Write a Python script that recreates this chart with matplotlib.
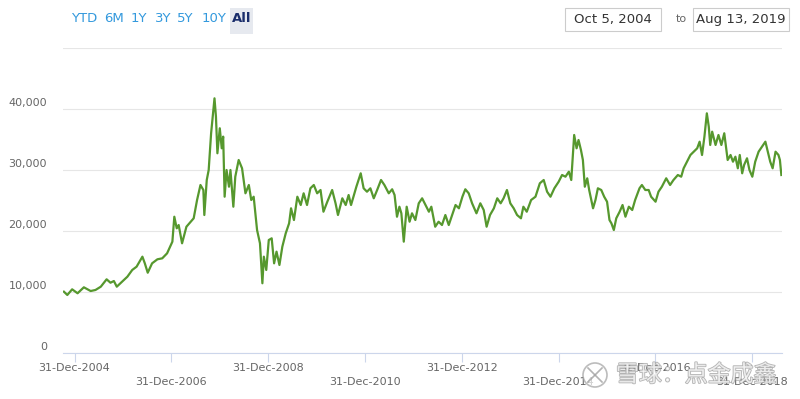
import matplotlib
matplotlib.use("Agg")
import matplotlib.pyplot as plt
import matplotlib.transforms as mtransforms
import matplotlib.patheffects as pe
from matplotlib.patches import Rectangle, Ellipse
from matplotlib.lines import Line2D
import pandas as pd

# ---------------- data ----------------
years = [
    2004.78, 2004.85, 2004.95, 2005.06, 2005.19, 2005.33, 2005.43, 2005.54, 2005.66, 2005.74,
    2005.81, 2005.87, 2005.98, 2006.09, 2006.19, 2006.28, 2006.40, 2006.45, 2006.51, 2006.60,
    2006.71, 2006.81, 2006.91, 2007.02, 2007.06, 2007.11, 2007.15, 2007.22, 2007.31, 2007.40,
    2007.46, 2007.53, 2007.60, 2007.66, 2007.68, 2007.73, 2007.77, 2007.82, 2007.86, 2007.89,
    2007.92, 2007.95, 2008.00, 2008.04, 2008.07, 2008.10, 2008.14, 2008.19, 2008.22, 2008.28,
    2008.32, 2008.39, 2008.46, 2008.53, 2008.60, 2008.65, 2008.70, 2008.77, 2008.83, 2008.88,
    2008.91, 2008.96, 2009.01, 2009.07, 2009.12, 2009.17, 2009.23, 2009.29, 2009.36, 2009.43,
    2009.47, 2009.53, 2009.60, 2009.67, 2009.73, 2009.80, 2009.87, 2009.94, 2010.01, 2010.08,
    2010.14, 2010.22, 2010.32, 2010.39, 2010.44, 2010.53, 2010.60, 2010.66, 2010.71, 2010.82,
    2010.91, 2010.97, 2011.04, 2011.11, 2011.18, 2011.25, 2011.33, 2011.40, 2011.49, 2011.56,
    2011.61, 2011.66, 2011.71, 2011.75, 2011.80, 2011.86, 2011.92, 2011.97, 2012.04, 2012.11,
    2012.18, 2012.25, 2012.32, 2012.37, 2012.45, 2012.52, 2012.59, 2012.66, 2012.73, 2012.80,
    2012.87, 2012.94, 2013.01, 2013.07, 2013.14, 2013.21, 2013.30, 2013.38, 2013.45, 2013.51,
    2013.58, 2013.66, 2013.73, 2013.80, 2013.86, 2013.93, 2014.00, 2014.07, 2014.14, 2014.22,
    2014.27, 2014.34, 2014.43, 2014.52, 2014.61, 2014.69, 2014.76, 2014.83, 2014.91, 2015.00,
    2015.07, 2015.14, 2015.21, 2015.26, 2015.29, 2015.32, 2015.37, 2015.41, 2015.46, 2015.50,
    2015.54, 2015.59, 2015.63, 2015.71, 2015.76, 2015.81, 2015.88, 2015.94, 2016.00, 2016.05,
    2016.09, 2016.14, 2016.19, 2016.26, 2016.32, 2016.38, 2016.45, 2016.52, 2016.58, 2016.67,
    2016.72, 2016.79, 2016.86, 2016.91, 2017.00, 2017.06, 2017.13, 2017.22, 2017.30, 2017.37,
    2017.46, 2017.53, 2017.58, 2017.65, 2017.72, 2017.79, 2017.86, 2017.91, 2017.96, 2018.01,
    2018.06, 2018.10, 2018.13, 2018.17, 2018.24, 2018.30, 2018.36, 2018.42, 2018.46, 2018.49,
    2018.55, 2018.60, 2018.65, 2018.70, 2018.74, 2018.79, 2018.83, 2018.89, 2018.94, 2019.00,
    2019.06, 2019.13, 2019.20, 2019.27, 2019.32, 2019.37, 2019.42, 2019.48, 2019.54, 2019.57,
    2019.60,
]
values = [
    10100, 9560, 10490, 9840, 10820, 10210, 10380, 10920, 12130, 11570,
    11850, 10920, 11740, 12560, 13660, 14200, 15840, 14750, 13210, 14750,
    15410, 15570, 16390, 18300, 22390, 20490, 21030, 18030, 20750, 21570,
    22130, 25130, 27590, 26770, 22670, 28410, 30050, 36070, 39340, 41800,
    38790, 32790, 36890, 33610, 35520, 25670, 30050, 27310, 30050, 24030,
    28950, 31690, 30330, 26230, 27590, 25130, 25670, 20210, 18030, 11480,
    15840, 13660, 18570, 18850, 14750, 16660, 14480, 17480, 19670, 21310,
    23770, 21850, 25670, 24310, 26230, 24310, 27050, 27590, 26230, 26770,
    23210, 24850, 26770, 24590, 22670, 25410, 24310, 25950, 24310, 27310,
    29510, 27050, 26490, 27050, 25410, 26770, 28410, 27590, 26230, 26890,
    25950, 22390, 24030, 22950, 18300, 24030, 21570, 22950, 21850, 24590,
    25410, 24310, 23210, 24030, 20750, 21570, 21030, 22670, 21030, 22670,
    24310, 23770, 25670, 26890, 26230, 24590, 22950, 24590, 23490, 20750,
    22670, 23770, 25410, 24590, 25410, 26770, 24590, 23770, 22670, 22130,
    24030, 23210, 25130, 25670, 27870, 28410, 26490, 25670, 27050, 28130,
    29230, 28950, 29770, 28410, 32230, 35790, 33610, 34970, 33330, 31690,
    27310, 28690, 26770, 23770, 25130, 27050, 26770, 25670, 24850, 21850,
    21310, 20210, 22130, 23210, 24310, 22390, 24030, 23490, 25130, 27050,
    27590, 26770, 26770, 25670, 24850, 26490, 27310, 28690, 27590, 28410,
    29230, 28950, 30330, 31410, 32510, 33050, 33610, 34690, 32510, 35510,
    39340, 37150, 34150, 36330, 34150, 35790, 34150, 36070, 33610, 31690,
    32510, 31410, 32230, 30330, 32510, 29510, 30870, 31970, 30050, 28950,
    31410, 33050, 33870, 34690, 33050, 31410, 30330, 33050, 32510, 31690,
    29230,
]
y_ticks = [0, 10000, 20000, 30000, 40000, 50000]
y_tick_labels = ["0", "10,000", "20,000", "30,000", "40,000"]
x_tick_dates = ["2004-12-31", "2006-12-31", "2008-12-31", "2010-12-31",
                "2012-12-31", "2014-12-31", "2016-12-31", "2018-12-31"]
x_tick_labels = ["31-Dec-2004", "31-Dec-2006", "31-Dec-2008", "31-Dec-2010",
                 "31-Dec-2012", "31-Dec-2014", "31-Dec-2016", "31-Dec-2018"]
range_buttons = ["YTD", "6M", "1Y", "3Y", "5Y", "10Y", "All"]
date_from = "Oct 5, 2004"
date_to = "Aug 13, 2019"
x_start, x_end = "2004-10-05", "2019-08-13"
watermark = "雪球：点金成鑫"

# ---------------- figure ----------------
W, H = 800, 399
fig = plt.figure(figsize=(W / 100, H / 100), dpi=100)
fig.patch.set_facecolor("white")


def fx(x):
    return x / W


def fy(y):
    return 1 - y / H


ax_l, ax_r, ax_t, ax_b = 63, 782, 48.3, 353.3
ax = fig.add_axes([fx(ax_l), fy(ax_b), (ax_r - ax_l) / W, (ax_b - ax_t) / H])

dates = [pd.Timestamp(int(y), 1, 1) + pd.Timedelta(days=(y - int(y)) * 365.25) for y in years]
ax.plot(dates, values, color="#56982e", lw=1.6, solid_joinstyle="round", zorder=3)

ax.set_xlim(pd.Timestamp(x_start), pd.Timestamp(x_end))
ax.set_ylim(y_ticks[0], y_ticks[-1])
ax.set_yticks(y_ticks)
ax.yaxis.grid(True, color="#e6e6e6", lw=0.8)
ax.tick_params(axis="y", length=0, labelleft=False)
for s in ["top", "right", "left"]:
    ax.spines[s].set_visible(False)
ax.spines["bottom"].set_color("#ccd6eb")
ax.spines["bottom"].set_linewidth(0.8)
ax.spines["bottom"].set_zorder(4)

tick_dates = [pd.Timestamp(d) for d in x_tick_dates]
ax.set_xticks(tick_dates)
ax.set_xticklabels([])
ax.tick_params(axis="x", length=6.5, color="#ccd6eb", width=0.8)

font = "DejaVu Sans"
lbl_color = "#666666"
blend_y = mtransforms.blended_transform_factory(ax.transAxes, ax.transData)
for v, lab in zip(y_ticks, y_tick_labels):
    tr = mtransforms.offset_copy(blend_y, fig=fig, x=-16, y=6, units="dots")
    ax.text(0, v, lab, transform=tr, ha="right", va="center", fontsize=8,
            color=lbl_color, family=font)

blend_x = mtransforms.blended_transform_factory(ax.transData, ax.transAxes)
for i, (d, lab) in enumerate(zip(tick_dates, x_tick_labels)):
    off = -15 if i % 2 == 0 else -29
    tr = mtransforms.offset_copy(blend_x, fig=fig, x=0, y=off, units="dots")
    ax.text(d, 0, lab, transform=tr, ha="center", va="center", fontsize=8,
            color=lbl_color, family=font, clip_on=False)

# ---------------- range selector ----------------
btn_x = [84, 114, 139, 163, 185, 214, 242]
fig.patches.append(Rectangle((fx(230), fy(34)), 23 / W, 26 / H, transform=fig.transFigure,
                             facecolor="#e6e9ef", edgecolor="none"))
for x, b in zip(btn_x, range_buttons):
    if b == "All":
        fig.text(fx(x), fy(19), b, ha="center", va="center", fontsize=9.5,
                 color="#1a2d6b", family=font, fontweight="bold")
    else:
        fig.text(fx(x), fy(19), b, ha="center", va="center", fontsize=9.5,
                 color="#3399dd", family=font)

# ---------------- date inputs ----------------
for (x0, x1), txt in [((565, 661), date_from), ((693, 789), date_to)]:
    fig.patches.append(Rectangle((fx(x0), fy(31)), (x1 - x0) / W, 23 / H,
                                 transform=fig.transFigure, facecolor="white",
                                 edgecolor="#cccccc", lw=0.8))
    fig.text(fx((x0 + x1) / 2), fy(19.5), txt, ha="center", va="center",
             fontsize=9.5, color="#333333", family=font)
fig.text(fx(681), fy(19.5), "to", ha="center", va="center", fontsize=8,
         color="#666666", family=font)

# ---------------- watermark (logo drawn as shapes) ----------------
fig.patches.append(Ellipse((fx(595), fy(375)), 24 / W, 24 / H, transform=fig.transFigure,
                           facecolor="white", edgecolor="#a0a0a0", lw=1.2, alpha=0.7))
for (xa, ya, xb, yb) in [(588, 368, 602, 382), (588, 382, 602, 368)]:
    fig.lines.append(Line2D([fx(xa), fx(xb)], [fy(ya), fy(yb)], transform=fig.transFigure,
                            color="#a0a0a0", lw=1.2, alpha=0.8))
stroke = [pe.withStroke(linewidth=1.2, foreground="#9a9a9a")]
fig.text(fx(616), fy(375), watermark, ha="left", va="center", fontsize=16.5,
         color="white", alpha=0.75, path_effects=stroke,
         family=["Noto Sans CJK SC", "DejaVu Sans"])

fig.savefig("out.png", dpi=100, facecolor="white")
